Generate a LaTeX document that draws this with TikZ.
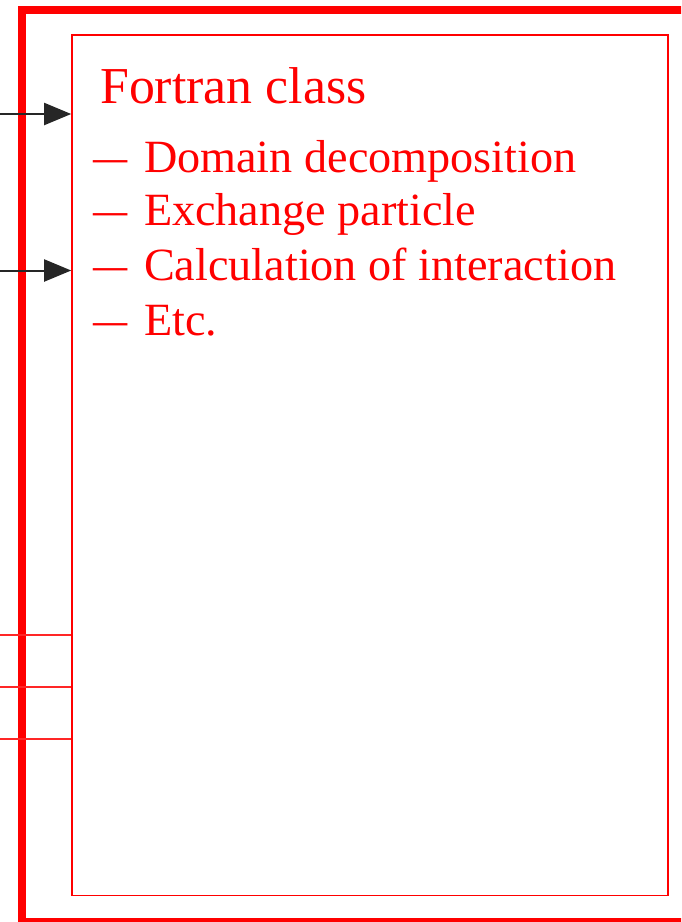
\documentclass[tikz,border=0pt]{standalone}
\usepackage{fontspec}
\usepackage{graphicx}
\setmainfont{Liberation Serif}
\usetikzlibrary{arrows.meta}

% short dash in front of each list entry
\newcommand{\itemdash}{\scalebox{0.74}[1]{\textemdash}\hspace{0.36em}}

\tikzset{
  outerframe/.style={draw=red, line width=8pt},
  classbox/.style={draw=red, line width=1.6pt, rectangle, inner sep=0pt},
  feed/.style={draw=black!85, line width=2pt, -{Triangle[length=27pt, width=22pt]}},
  link/.style={draw=red!85, line width=1.6pt},
  titletext/.style={text=red, inner sep=0pt, anchor=base west, font=\fontsize{51.8}{60}\selectfont},
  itemtext/.style={text=red, inner sep=0pt, anchor=base west, font=\fontsize{46.2}{54}\selectfont},
}

\begin{document}
\begin{tikzpicture}[x=1pt, y=-1pt]
  \useasboundingbox (0,0) rectangle (681,922);
  \clip (0,0) rectangle (681,922);

  % enclosing frame
  \draw[outerframe] (21.5,9.5) rectangle (730,922);

  % the Fortran class box
  \node[classbox, minimum width=596pt, minimum height=860.5pt] (fortran) at (370,465.25) {};

  \node[titletext] (title) at (100,103) {Fortran class};
  \node[itemtext] (dd)   at (93,172) {\itemdash Domain decomposition};
  \node[itemtext] (ep)   at (93,225) {\itemdash Exchange particle};
  \node[itemtext] (ci)   at (93,280) {\itemdash Calculation of interaction};
  \node[itemtext] (etc)  at (93,335) {\itemdash Etc.};

  % incoming calls
  \coordinate (in1) at (0,114);
  \coordinate (in2) at (0,270.5);
  \draw[feed] (in1) -- (fortran.west |- in1);
  \draw[feed] (in2) -- (fortran.west |- in2);

  % plain connections at the lower left
  \coordinate (l1) at (0,635);
  \coordinate (l2) at (0,687);
  \coordinate (l3) at (0,739);
  \draw[link] (l1) -- (fortran.west |- l1);
  \draw[link] (l2) -- (fortran.west |- l2);
  \draw[link] (l3) -- (fortran.west |- l3);
\end{tikzpicture}
\end{document}
